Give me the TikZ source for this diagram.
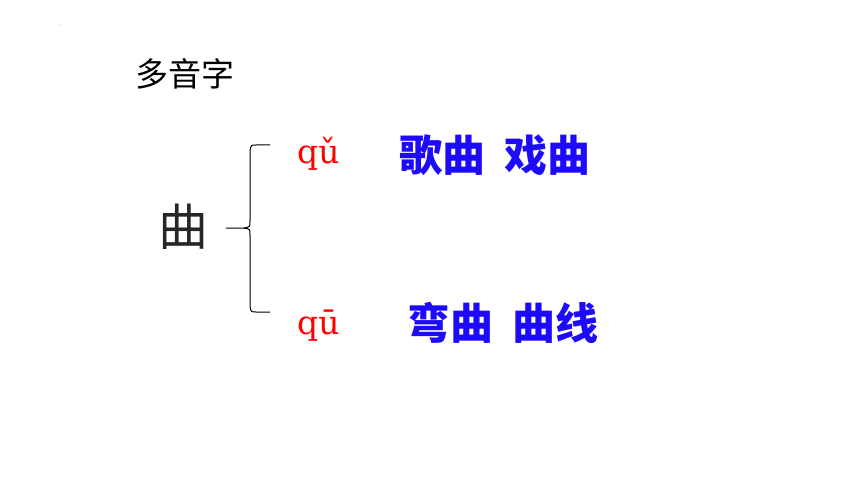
\documentclass[tikz,border=0pt]{standalone}
\usepackage{fontspec}
\usepackage{xcolor}
\usepackage{tikz}
\setmainfont{DejaVu Serif}
\newfontfamily\cjk{Noto Sans CJK SC}
\definecolor{ciblue}{RGB}{30,10,250}
\tikzset{x=1pt, y=-1pt,
    title/.style={inner sep=0pt, font=\cjk\fontsize{33}{33}\selectfont},
    zi/.style={inner sep=0pt, text=black!85, font=\cjk\fontsize{50}{50}\selectfont},
    pinyin/.style={inner sep=0pt, anchor=base west, text=red,
        font=\fontsize{33}{33}\selectfont},
    ci/.style={inner sep=0pt, text=ciblue, font=\cjk\bfseries\fontsize{43}{43}\selectfont},
    brace/.style={draw, line width=1pt}}

\begin{document}
\begin{tikzpicture}
    \useasboundingbox (0,0) rectangle (860,484);
    \fill[black!40] (59,25) circle (0.5);
    \node[title] (duoyin) at (185,74) {多音字};
    \node[zi] (qu) at (183,227) {曲};
    % brace
    \coordinate (tip) at (226,228);
    \coordinate (top) at (270,145);
    \coordinate (bottom) at (270,312);
    \draw[brace] (top) -- (256,145) .. controls (251,145) .. (250,151)
        -- (250,221) .. controls (250,227) .. (244,228) -- (tip);
    \draw[brace] (bottom) -- (256,312) .. controls (251,312) .. (250,306)
        -- (250,235) .. controls (250,229) .. (244,228);
    \node[pinyin] (qu3) at (297,164) {qǔ};
    \node[pinyin] (qu1) at (297,334) {qū};
    \node[ci] (ci3) at (495,155) {歌曲\hspace{0.45em}戏曲};
    \node[ci] (ci1) at (503,323) {弯曲\hspace{0.45em}曲线};
\end{tikzpicture}
\end{document}
